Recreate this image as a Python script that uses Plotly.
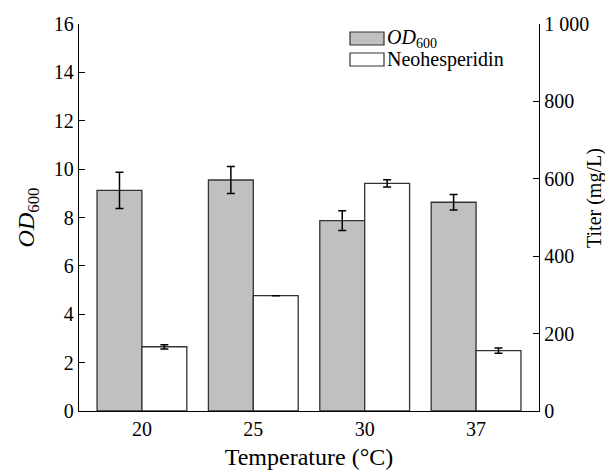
import plotly.graph_objects as go

temperatures = ["20", "25", "30", "37"]
od600 = [9.12, 9.55, 7.87, 8.63]
od600_err = [0.75, 0.56, 0.41, 0.32]
neohesperidin = [166, 298, 588, 156]
neohesperidin_err = [5.5, None, 9.5, 7]
left_ticks = [0, 2, 4, 6, 8, 10, 12, 14, 16]
right_ticks = [0, 200, 400, 600, 800, 1000]
right_ticktext = ["0", "200", "400", "600", "800", "1 000"]

FONT = "Liberation Serif, Times New Roman, serif"
W = 0.403

# page body has an 8px margin, so the figure is 8px smaller and margins shifted
L, T = 71, 16
PW, PH = 460, 387


def px(xpage):
    return (xpage - 8 - L) / PW


def py(ypage):
    return 1 - (ypage - 8 - T) / PH


fig = go.Figure()
fig.add_trace(go.Bar(
    x=temperatures, y=od600, width=W, offset=-W,
    marker=dict(color="#c0c0c0", line=dict(color="#333333", width=1.3)),
    error_y=dict(type="data", array=od600_err, color="black", thickness=1.5, width=4),
    name="OD600", showlegend=False, yaxis="y"))
fig.add_trace(go.Bar(
    x=temperatures, y=neohesperidin, width=W, offset=0,
    marker=dict(color="white", line=dict(color="#333333", width=1.3)),
    error_y=dict(type="data", array=neohesperidin_err, color="black", thickness=1.5, width=4),
    name="Neohesperidin", showlegend=False, yaxis="y2"))

fig.update_layout(
    width=605, height=465,
    margin=dict(l=L, r=605 - L - PW, t=T, b=465 - T - PH),
    paper_bgcolor="white", plot_bgcolor="white",
    font=dict(family=FONT, size=20, color="black"),
    barmode="overlay",
    xaxis=dict(type="category", range=[-0.565, 3.565], showline=True, linecolor="black",
               linewidth=1.3, ticks="", showgrid=False, zeroline=False, automargin=False,
               title=dict(text="Temperature (°C)", standoff=9)),
    yaxis=dict(range=[0, 16], tickvals=left_ticks, showline=True, linecolor="black",
               linewidth=1.3, ticks="inside", ticklen=6, tickcolor="black", showgrid=False,
               zeroline=False, automargin=False,
               title=dict(text="<i>OD</i><sub>600</sub>", standoff=12)),
    yaxis2=dict(range=[0, 1000], tickvals=right_ticks, ticktext=right_ticktext,
                overlaying="y", side="right", showline=True, linecolor="black",
                linewidth=1.3, ticks="inside", ticklen=6, tickcolor="black", showgrid=False,
                zeroline=False, automargin=False),
)

# right axis title
fig.add_annotation(xref="paper", yref="paper", x=px(594), y=py(198), text="Titer (mg/L)",
                   textangle=-90, showarrow=False, xanchor="center", yanchor="middle",
                   font=dict(size=20))

# legend drawn manually (page coords -> paper coords)
legend_items = [("<i>OD</i><sub>600</sub>", "#c0c0c0"), ("Neohesperidin", "white")]
for i, (label, color) in enumerate(legend_items):
    y0 = 32 + i * 21
    fig.add_shape(type="rect", xref="paper", yref="paper",
                  x0=px(350), x1=px(384), y0=py(y0 + 13), y1=py(y0),
                  fillcolor=color, line=dict(color="#333333", width=1.2))
    fig.add_annotation(xref="paper", yref="paper", x=px(385), y=py(y0 + 6.5),
                       text=label, showarrow=False, xanchor="left", yanchor="middle",
                       font=dict(size=20))

fig.write_html("out.html")
